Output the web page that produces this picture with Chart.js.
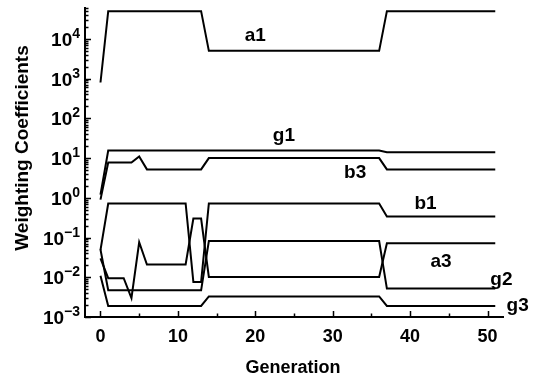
<!DOCTYPE html>
<html>
<head>
<meta charset="utf-8">
<script src="https://cdn.jsdelivr.net/npm/chart.js@4/dist/chart.umd.min.js"></script>
<style>
  html, body { margin: 0; padding: 0; background: #ffffff; }
  canvas { display: block; }
</style>
</head>
<body>
<canvas id="chart" width="542" height="380"></canvas>
<script>
// Generation index (x values)
const generations = [
  0, 1, 2, 3, 4, 5, 6, 7, 8, 9, 10, 11, 12, 13, 14, 15, 16, 17, 18, 19,
  20, 21, 22, 23, 24, 25, 26, 27, 28, 29, 30, 31, 32, 33, 34, 35, 36, 37, 38, 39,
  40, 41, 42, 43, 44, 45, 46, 47, 48, 49, 50, 51
];

// Weighting coefficient histories, one value per generation
const a1 = [
  800,
  50000, 50000, 50000, 50000, 50000, 50000, 50000, 50000, 50000, 50000, 50000, 50000, 50000,
  5000, 5000, 5000, 5000, 5000, 5000, 5000, 5000, 5000, 5000, 5000, 5000,
  5000, 5000, 5000, 5000, 5000, 5000, 5000, 5000, 5000, 5000, 5000,
  50000, 50000, 50000, 50000, 50000, 50000, 50000, 50000, 50000, 50000, 50000, 50000, 50000, 50000, 50000
];
const g1 = [
  1.2,
  15.5, 15.5, 15.5, 15.5, 15.5, 15.5, 15.5, 15.5, 15.5, 15.5, 15.5, 15.5, 15.5,
  15.5, 15.5, 15.5, 15.5, 15.5, 15.5, 15.5, 15.5, 15.5, 15.5, 15.5, 15.5,
  15.5, 15.5, 15.5, 15.5, 15.5, 15.5, 15.5, 15.5, 15.5, 15.5, 15.5,
  14, 14, 14, 14, 14, 14, 14, 14, 14, 14, 14, 14, 14, 14, 14
];
const b3 = [
  0.9,
  7.7, 7.7, 7.7, 7.7, 11, 5.2, 5.2, 5.2, 5.2, 5.2, 5.2, 5.2, 5.2,
  10, 10, 10, 10, 10, 10, 10, 10, 10, 10, 10, 10,
  10, 10, 10, 10, 10, 10, 10, 10, 10, 10, 10,
  5.2, 5.2, 5.2, 5.2, 5.2, 5.2, 5.2, 5.2, 5.2, 5.2, 5.2, 5.2, 5.2, 5.2, 5.2
];
const b1 = [
  0.048,
  0.72, 0.72, 0.72, 0.72, 0.72, 0.72, 0.72, 0.72, 0.72, 0.72, 0.72, 0.0076, 0.0076,
  0.72, 0.72, 0.72, 0.72, 0.72, 0.72, 0.72, 0.72, 0.72, 0.72, 0.72, 0.72,
  0.72, 0.72, 0.72, 0.72, 0.72, 0.72, 0.72, 0.72, 0.72, 0.72, 0.72,
  0.34, 0.34, 0.34, 0.34, 0.34, 0.34, 0.34, 0.34, 0.34, 0.34, 0.34, 0.34, 0.34, 0.34, 0.34
];
const a3 = [
  0.03,
  0.0095, 0.0095, 0.0095, 0.003, 0.076, 0.021, 0.021, 0.021, 0.021, 0.021, 0.021, 0.3, 0.3,
  0.0102, 0.0102, 0.0102, 0.0102, 0.0102, 0.0102, 0.0102, 0.0102, 0.0102, 0.0102, 0.0102, 0.0102,
  0.0102, 0.0102, 0.0102, 0.0102, 0.0102, 0.0102, 0.0102, 0.0102, 0.0102, 0.0102, 0.0102,
  0.072, 0.072, 0.072, 0.072, 0.072, 0.072, 0.072, 0.072, 0.072, 0.072, 0.072, 0.072, 0.072, 0.072, 0.072
];
const g2 = [
  0.05,
  0.0047, 0.0047, 0.0047, 0.0047, 0.0047, 0.0047, 0.0047, 0.0047, 0.0047, 0.0047, 0.0047, 0.0047, 0.0047,
  0.082, 0.082, 0.082, 0.082, 0.082, 0.082, 0.082, 0.082, 0.082, 0.082, 0.082, 0.082,
  0.082, 0.082, 0.082, 0.082, 0.082, 0.082, 0.082, 0.082, 0.082, 0.082, 0.082,
  0.0052, 0.0052, 0.0052, 0.0052, 0.0052, 0.0052, 0.0052, 0.0052, 0.0052, 0.0052, 0.0052, 0.0052, 0.0052, 0.0052, 0.0052
];
const g3 = [
  0.011,
  0.0019, 0.0019, 0.0019, 0.0019, 0.0019, 0.0019, 0.0019, 0.0019, 0.0019, 0.0019, 0.0019, 0.0019, 0.0019,
  0.0033, 0.0033, 0.0033, 0.0033, 0.0033, 0.0033, 0.0033, 0.0033, 0.0033, 0.0033, 0.0033, 0.0033,
  0.0033, 0.0033, 0.0033, 0.0033, 0.0033, 0.0033, 0.0033, 0.0033, 0.0033, 0.0033, 0.0033,
  0.0019, 0.0019, 0.0019, 0.0019, 0.0019, 0.0019, 0.0019, 0.0019, 0.0019, 0.0019, 0.0019, 0.0019, 0.0019, 0.0019, 0.0019
];

const seriesNames = ['a1', 'g1', 'b3', 'b1', 'a3', 'g2', 'g3'];
const seriesValues = [a1, g1, b3, b1, a3, g2, g3];

// Where each series name is written, in (generation, coefficient) units
const labelGeneration = [20, 23.7, 32.9, 42, 44, 51.8, 53.9];
const labelCoefficient = [12000, 37, 4.3, 0.72, 0.024, 0.0089, 0.0019];

// Axis ticks
const xMajorTicks = [0, 10, 20, 30, 40, 50];
const xMinorTicks = [5, 15, 25, 35, 45];
const yDecadeExponents = [-3, -2, -1, 0, 1, 2, 3, 4];

const xTitle = 'Generation';
const yTitle = 'Weighting Coefficients';

const FONT = '"Liberation Sans", Arial, Helvetica, sans-serif';

// Inward tick marks, power-of-ten labels, axis titles and series names
const decorations = {
  id: 'decorations',
  afterDraw(chart) {
    const { ctx, chartArea, scales } = chart;
    const xs = scales.x, ys = scales.y;
    ctx.save();
    ctx.strokeStyle = '#000';
    ctx.lineWidth = 1.5;
    ctx.beginPath();
    xMajorTicks.forEach(t => {
      const px = Math.round(xs.getPixelForValue(t)) + 0.5;
      ctx.moveTo(px, chartArea.bottom); ctx.lineTo(px, chartArea.bottom - 6);
    });
    xMinorTicks.forEach(t => {
      const px = Math.round(xs.getPixelForValue(t)) + 0.5;
      ctx.moveTo(px, chartArea.bottom); ctx.lineTo(px, chartArea.bottom - 3.5);
    });
    yDecadeExponents.forEach(e => {
      const py = Math.round(ys.getPixelForValue(Math.pow(10, e))) + 0.5;
      ctx.moveTo(chartArea.left, py); ctx.lineTo(chartArea.left + 6, py);
      for (let m = 2; m <= 9; m++) {
        const v = m * Math.pow(10, e);
        if (v > ys.max) break;
        const my = Math.round(ys.getPixelForValue(v)) + 0.5;
        ctx.moveTo(chartArea.left, my); ctx.lineTo(chartArea.left + 3.5, my);
      }
    });
    ctx.stroke();

    ctx.fillStyle = '#000';

    // y tick labels: "10" with a raised exponent
    ctx.textBaseline = 'alphabetic';
    yDecadeExponents.forEach(e => {
      const py = ys.getPixelForValue(Math.pow(10, e));
      const expText = String(e).replace('-', '\u2212');
      ctx.font = 'bold 14px ' + FONT;
      const expW = ctx.measureText(expText).width;
      const right = chartArea.left - 5;
      ctx.textAlign = 'right';
      ctx.fillText(expText, right, py - 1);
      ctx.font = 'bold 19px ' + FONT;
      ctx.fillText('10', right - expW, py + 7);
    });

    ctx.textAlign = 'center';

    // axis titles
    ctx.font = 'bold 18px ' + FONT;
    ctx.fillText(xTitle, 293, 373);
    ctx.save();
    ctx.translate(28, 148);
    ctx.rotate(-Math.PI / 2);
    ctx.font = 'bold 19px ' + FONT;
    ctx.fillText(yTitle, 0, 0);
    ctx.restore();

    // series names
    ctx.textBaseline = 'middle';
    ctx.font = 'bold 19px ' + FONT;
    seriesNames.forEach((name, i) => {
      const px = xs.getPixelForValue(labelGeneration[i]);
      const py = ys.getPixelForValue(labelCoefficient[i]);
      ctx.fillText(name, px, py);
    });
    ctx.restore();
  }
};

new Chart(document.getElementById('chart'), {
  type: 'line',
  data: {
    labels: generations,
    datasets: seriesNames.map((name, i) => ({
      label: name,
      data: generations.map((g, j) => ({ x: g, y: seriesValues[i][j] })),
      borderColor: '#000',
      borderWidth: 2,
      pointRadius: 0,
      tension: 0,
      fill: false
    }))
  },
  options: {
    responsive: false,
    animation: false,
    devicePixelRatio: 1,
    layout: { padding: { left: 0, right: 39, top: 8, bottom: 0 } },
    plugins: { legend: { display: false }, tooltip: { enabled: false }, title: { display: false } },
    scales: {
      x: {
        type: 'linear',
        min: -2,
        max: 52,
        afterBuildTicks(scale) { scale.ticks = xMajorTicks.map(v => ({ value: v })); },
        afterFit(scale) { scale.height = 63; scale.paddingLeft = 0; scale.paddingRight = 0; },
        grid: { display: false },
        border: { display: true, color: '#000', width: 2 },
        ticks: {
          color: '#000',
          padding: 1,
          maxRotation: 0,
          autoSkip: false,
          font: { family: FONT, size: 18, weight: 'bold' }
        }
      },
      y: {
        type: 'logarithmic',
        min: 0.001,
        max: 60000,
        afterBuildTicks(scale) { scale.ticks = yDecadeExponents.map(e => ({ value: Math.pow(10, e) })); },
        afterFit(scale) { scale.width = 85; scale.paddingTop = 0; scale.paddingBottom = 0; },
        grid: { display: false },
        border: { display: true, color: '#000', width: 2 },
        ticks: { display: false }
      }
    }
  },
  plugins: [decorations]
});
</script>
</body>
</html>
